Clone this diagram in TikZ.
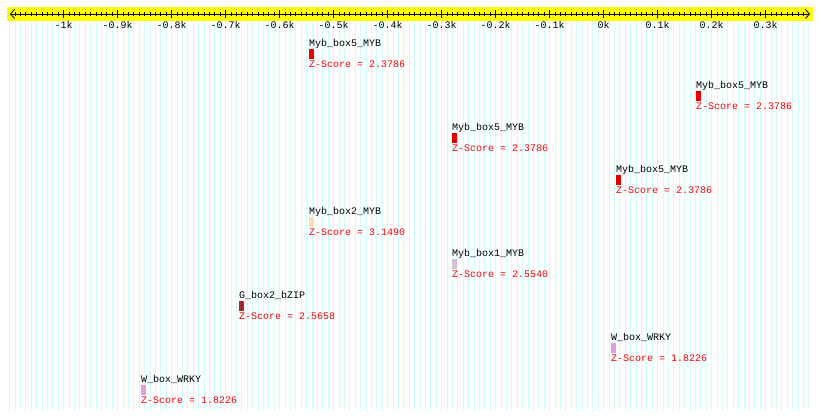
\documentclass[tikz,border=0pt]{standalone}
\usepackage{fontspec}
\setmonofont{Liberation Mono}
\usepackage{xcolor}
\usetikzlibrary{arrows.meta}
\definecolor{rulerbg}{RGB}{255,255,0}
\definecolor{stripe}{RGB}{204,255,255}
\definecolor{mybred}{RGB}{230,0,0}
\definecolor{mybpeach}{RGB}{255,222,173}
\definecolor{myblilac}{RGB}{216,191,216}
\definecolor{zipbrown}{RGB}{165,42,42}
\definecolor{wrkyplum}{RGB}{221,160,221}

\begin{document}
\begin{tikzpicture}[x=1pt, y=-1pt,
  txt/.style={font=\ttfamily\fontsize{10}{12}\selectfont, inner sep=0pt},
  motif/.style={txt, anchor=base west},
  score/.style={txt, anchor=base west, text=red},
  hit/.style={inner sep=0pt, minimum width=4.6pt, minimum height=9.7pt, anchor=north west}]
  \useasboundingbox (0,0) rectangle (820,419);
  % stripes every 10 bp
  \foreach \u in {-1100,-1090,...,380}
    \draw[stripe, line width=1pt] ({603.6+0.54*\u},21) -- ({603.6+0.54*\u},410);
  % ruler
  \fill[rulerbg] (7,7) rectangle (813,21);
  \coordinate (rl) at (10,14);
  \coordinate (rr) at (810,14);
  \draw[line width=0.8pt, arrows={Straight Barb[length=4pt,width=9pt]-Straight Barb[length=4pt,width=9pt]}] (rl) -- (rr);
  \foreach \u in {-1090,-1080,...,370}
    \draw[line width=0.8pt] ({603.6+0.54*\u},12) -- ++(0,4);
  \foreach \u/\lab [count=\k] in {-1000/-1k,-900/-0.9k,-800/-0.8k,-700/-0.7k,-600/-0.6k,-500/-0.5k,-400/-0.4k,-300/-0.3k,-200/-0.2k,-100/-0.1k,0/0k,100/0.1k,200/0.2k,300/0.3k}{
    \draw[line width=0.8pt] ({603.6+0.54*\u},10.5) -- ++(0,7.5);
    \node[txt, anchor=base] (lab\k) at ({603.6+0.54*\u},28.3) {\lab};
  }
  % motif hits
  \foreach \x/\r/\name/\col/\z [count=\i] in {
      309/0/Myb\_box5\_MYB/mybred/2.3786,
      696/1/Myb\_box5\_MYB/mybred/2.3786,
      452/2/Myb\_box5\_MYB/mybred/2.3786,
      616/3/Myb\_box5\_MYB/mybred/2.3786,
      309/4/Myb\_box2\_MYB/mybpeach/3.1490,
      452/5/Myb\_box1\_MYB/myblilac/2.5540,
      239/6/G\_box2\_bZIP/zipbrown/2.5658,
      611/7/W\_box\_WRKY/wrkyplum/1.8226,
      141/8/W\_box\_WRKY/wrkyplum/1.8226}{
    \node[motif] (name\i) at (\x,{47+42*\r}) {\name};
    \node[hit, fill=\col] (bar\i) at (\x,{49.3+42*\r}) {};
    \node[score] (score\i) at (\x,{67.3+42*\r}) {Z-Score = \z};
  }
\end{tikzpicture}
\end{document}
